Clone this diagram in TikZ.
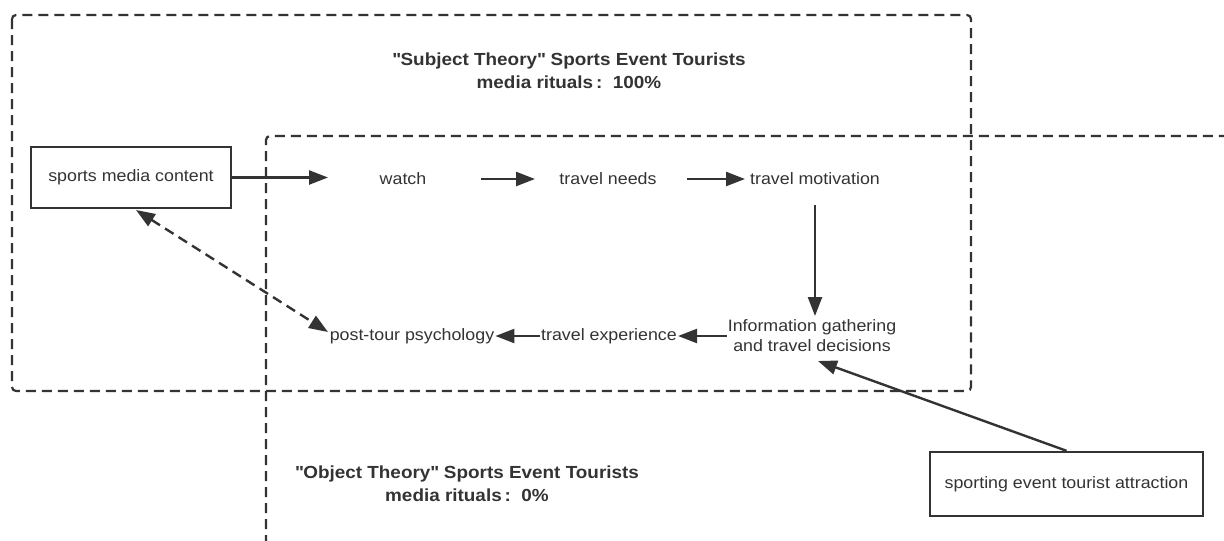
\documentclass[tikz,border=0pt]{standalone}
\usepackage{fontspec}
\setmainfont[FakeStretch=1.08]{Liberation Sans}
\usetikzlibrary{arrows.meta}
\definecolor{ink}{HTML}{333333}
\begin{document}
\begin{tikzpicture}[x=1pt,y=-1pt,
  every node/.style={text=ink,font=\fontsize{16.5}{20}\selectfont},
  frame/.style={draw=ink,line width=2.2pt,dash pattern=on 10pt off 6pt,rounded corners=4pt},
  boxnode/.style={draw=ink,line width=2.4pt,minimum width=200pt,minimum height=61pt,inner sep=0pt},
  plain/.style={inner sep=1pt,align=center},
  tip/.style={Triangle[length=19pt,width=14pt]},
  flow/.style={draw=ink,line width=2.4pt,-{Triangle[length=19pt,width=14pt]}},
  title/.style={align=center,font=\bfseries\fontsize{17.5}{23}\selectfont}]
\useasboundingbox (0,0) rectangle (1224,541);
% frames
\draw[frame] (12,15) rectangle (971,391);
\draw[frame] (266,545) -- (266,136) -- (1230,136);
% titles
\node[title] (t1) at (569,71) {\textquotedbl Subject Theory\textquotedbl{} Sports Event Tourists\\media rituals\,:\ \ 100\%};
\node[title] (t2) at (467,484) {\textquotedbl Object Theory\textquotedbl{} Sports Event Tourists\\media rituals\,:\ \ 0\%};
% nodes
\node[boxnode] (smc) at (131,177.5) {sports media content};
\node[boxnode,minimum width=273pt,minimum height=64pt] (sta) at (1066.5,484) {sporting event tourist attraction};
\node[plain] (watch) at (403,179) {watch};
\node[plain] (needs) at (608,179) {travel needs};
\node[plain] (motiv) at (815,179) {travel motivation};
\node[plain] (info) at (812,336) {Information gathering\\and travel decisions};
\node[plain] (exp) at (609,336) {travel experience};
\node[plain] (post) at (412,336) {post-tour psychology};
% connectors
\coordinate (wl) at (328,177.5);
\draw[flow] (smc.east) -- (wl);
\draw[flow] (481,179) coordinate (n1s) -- (535,179) coordinate (n1e);
\draw[flow] (687,179) coordinate (n2s) -- (745,179) coordinate (n2e);
\draw[flow] (815,205) coordinate (n3s) -- (815,316) coordinate (n3e);
\draw[flow] (info.west) -- (exp.east);
\draw[flow] (exp.west) -- (post.east);
\draw[draw=ink,line width=2.4pt,dash pattern=on 10pt off 6pt,{Triangle[length=19pt,width=14pt]}-{Triangle[length=19pt,width=14pt]}] (136,210) coordinate (da) -- (328,332) coordinate (db);
\draw[flow] (sta.north) -- (818,361);
\end{tikzpicture}
\end{document}
